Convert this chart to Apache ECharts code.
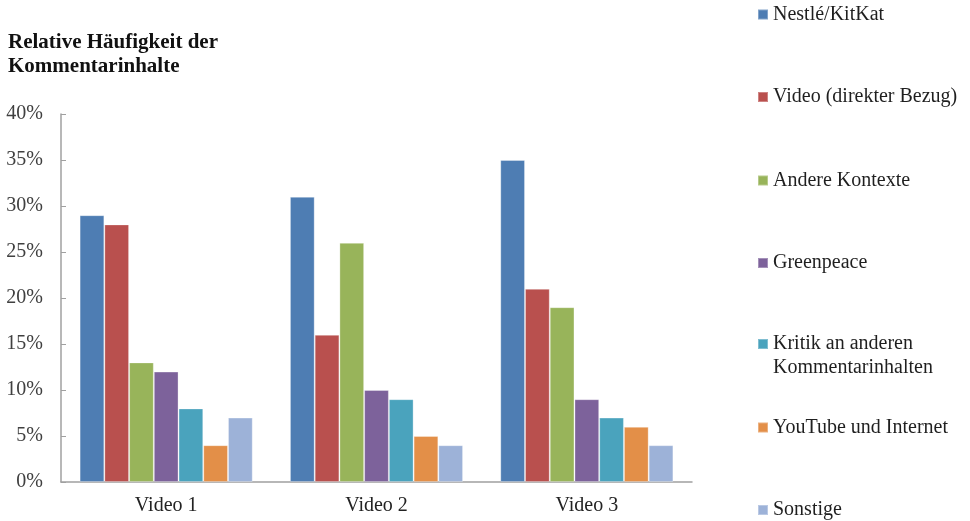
<!DOCTYPE html>
<html>
<head>
<meta charset="utf-8">
<script src="https://cdn.jsdelivr.net/npm/echarts@6/dist/echarts.min.js"></script>
<style>
html,body{margin:0;padding:0;background:#fff;}
#c{width:970px;height:521px;}
</style>
</head>
<body>
<div id="c"></div>
<script>
var categories = ['Video 1', 'Video 2', 'Video 3'];
var seriesNames = ['Nestlé/KitKat', 'Video (direkter Bezug)', 'Andere Kontexte', 'Greenpeace', 'Kritik an anderen Kommentarinhalten', 'YouTube und Internet', 'Sonstige'];
var nestle = [29, 31, 35];
var videoBezug = [28, 16, 21];
var andere = [13, 26, 19];
var greenpeace = [12, 10, 9];
var kritik = [8, 9, 7];
var youtube = [4, 5, 6];
var sonstige = [7, 4, 4];
var yTicks = [0, 5, 10, 15, 20, 25, 30, 35, 40];

var values = [nestle, videoBezug, andere, greenpeace, kritik, youtube, sonstige];
var colors = ['#4E7DB3', '#B9504E', '#98B45A', '#7D629B', '#4AA3BD', '#E38F48', '#9DB2D8'];
var FONT = '"Liberation Serif", "Times New Roman", serif';

var legendCenters = [14.5, 97, 180.5, 263, 344, 427.5, 510];
var legends = seriesNames.map(function (n, i) {
  var multi = (i === 4);
  return {
    orient: 'vertical',
    left: 757,
    top: multi ? legendCenters[i] - 36 : legendCenters[i] - 10,
    padding: 0,
    itemWidth: 10,
    itemHeight: 10,
    icon: 'rect',
    selectedMode: false,
    data: [n],
    formatter: multi ? function () { return ' \nKritik an anderen\nKommentarinhalten'; } : '{name}',
    textStyle: multi ? {
      fontFamily: FONT, fontSize: 20, color: '#1f1f1f', lineHeight: 24
    } : {
      fontFamily: FONT, fontSize: 20, color: '#1f1f1f', lineHeight: 20
    }
  };
});

var chart = echarts.init(document.getElementById('c'), null, {renderer: 'canvas'});
chart.setOption({
  animation: false,
  backgroundColor: '#fff',
  title: {
    text: 'Relative Häufigkeit der\nKommentarinhalte',
    left: 8,
    top: 31,
    padding: 0,
    textStyle: {fontFamily: FONT, fontSize: 21, fontWeight: 'bold', color: '#111', lineHeight: 24}
  },
  legend: legends,
  grid: {left: 61, right: 278, top: 114, bottom: 39, outerBoundsMode: 'none'},
  xAxis: {
    type: 'category',
    data: categories,
    axisLine: {lineStyle: {color: '#a0a0a0', width: 1.5}},
    axisTick: {inside: true, length: 7, lineStyle: {color: '#a0a0a0'}},
    axisLabel: {fontFamily: FONT, fontSize: 20, color: '#222', margin: 14, lineHeight: 20}
  },
  yAxis: {
    type: 'value',
    min: yTicks[0],
    max: yTicks[yTicks.length - 1],
    interval: 5,
    splitLine: {show: false},
    axisLine: {show: true, lineStyle: {color: '#a0a0a0', width: 1.5}},
    axisTick: {show: true, inside: true, length: 5, lineStyle: {color: '#a0a0a0'}},
    axisLabel: {fontFamily: FONT, fontSize: 20, color: '#404040', margin: 18, formatter: '{value}%'}
  },
  series: seriesNames.map(function (n, i) {
    return {
      name: n,
      type: 'bar',
      data: values[i],
      barGap: '0%',
      barCategoryGap: '17.7%',
      itemStyle: {color: colors[i], borderColor: 'rgba(255,255,255,0.3)', borderWidth: 1}
    };
  })
});
</script>
</body>
</html>
